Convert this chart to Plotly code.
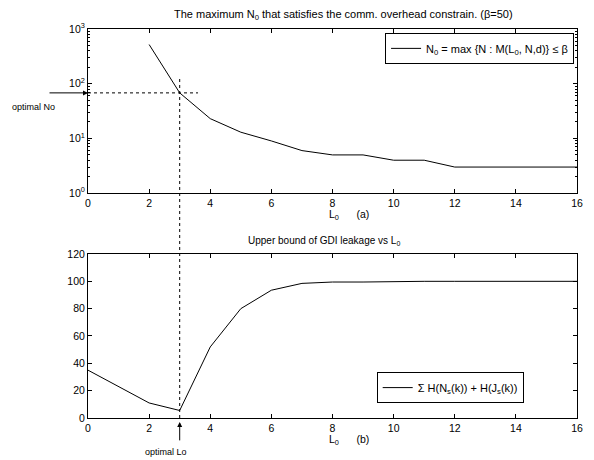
import plotly.graph_objects as go
from plotly.subplots import make_subplots
import math

# ---- data ----
L0_a = [2, 3, 4, 5, 6, 7, 8, 9, 10, 11, 12, 13, 14, 15, 16]
N0_max = [520, 68, 23, 13, 9, 6, 5, 5, 4, 4, 3, 3, 3, 3, 3]

L0_b = [0, 1, 2, 3, 4, 5, 6, 7, 8, 9, 10, 11, 12, 13, 14, 15, 16]
leakage = [35, 23, 11, 5.5, 52, 80, 93.5, 98.5, 99.5, 99.5, 100, 100, 100, 100, 100, 100, 100]

optimal_L0 = 3
optimal_N0 = N0_max[L0_a.index(optimal_L0)]

x_ticks = [0, 2, 4, 6, 8, 10, 12, 14, 16]
y_ticks_a = [1, 10, 100, 1000]
y_ticktext_a = ["10<sup>0</sup>", "10<sup>1</sup>", "10<sup>2</sup>", "10<sup>3</sup>"]
y_ticks_b = [0, 20, 40, 60, 80, 100, 120]

FONT = "Liberation Sans"

fig = make_subplots(rows=2, cols=1, vertical_spacing=0.1567)
# page body has an 8px margin, so the figure is 8px smaller and shifted
fig.update_layout(
    width=586, height=452,
    margin=dict(l=80, r=11, t=21, b=42),
    paper_bgcolor="white", plot_bgcolor="white",
    font=dict(family=FONT, size=10.5, color="black"),
)
fig.update_yaxes(domain=[0.578, 1.0], row=1, col=1)
fig.update_yaxes(domain=[0.0, 0.4216], row=2, col=1)

fig.add_trace(go.Scatter(
    x=L0_a, y=N0_max, mode="lines", line=dict(color="black", width=1),
    name="N<sub>0</sub> = max {N : M(L<sub>0</sub>, N,d)} ≤ β", legend="legend"),
    row=1, col=1)
# optimal guide (horizontal dotted)
fig.add_trace(go.Scatter(
    x=[0, optimal_L0 + 0.6], y=[optimal_N0, optimal_N0], mode="lines",
    line=dict(color="black", width=1, dash="dot"), showlegend=False,
    hoverinfo="skip"), row=1, col=1)

fig.add_trace(go.Scatter(
    x=L0_b, y=leakage, mode="lines", line=dict(color="black", width=1),
    name="Σ H(N<sub>s</sub>(k)) + H(J<sub>s</sub>(k))", legend="legend2"),
    row=2, col=1)

axis_common = dict(showline=True, linecolor="black", linewidth=1, mirror="ticks",
                   ticks="inside", ticklen=4, tickcolor="black", showgrid=False,
                   zeroline=False, tickfont=dict(family=FONT, size=10.5))
fig.update_xaxes(range=[0, 16], tickvals=x_ticks, **axis_common)
fig.update_yaxes(type="log", range=[0, 3], tickvals=y_ticks_a, ticktext=y_ticktext_a,
                 minor=dict(ticks="inside", ticklen=2, tickcolor="black",
                            dtick="D1", showgrid=False),
                 row=1, col=1, **axis_common)
fig.update_yaxes(range=[0, 120], tickvals=y_ticks_b, row=2, col=1, **axis_common)

fig.update_layout(
    legend=dict(x=0.994, y=0.99, xanchor="right", yanchor="top",
                bordercolor="black", borderwidth=1, bgcolor="white",
                font=dict(family=FONT, size=11), itemwidth=30,
                tracegroupgap=0),
    legend2=dict(x=0.891, y=0.118, xanchor="right", yanchor="top",
                 bordercolor="black", borderwidth=1, bgcolor="white",
                 font=dict(family=FONT, size=11), itemwidth=30),
)

# vertical dotted line across both panels at optimal L0
fig.add_shape(type="line", xref="x", yref="paper", x0=optimal_L0, x1=optimal_L0,
              y0=0.0, y1=0.874, line=dict(color="black", width=1, dash="dot"))

ann = []
ann.append(dict(text="The maximum N<sub>0</sub> that satisfies the comm. overhead constrain. (β=50)",
                xref="paper", yref="paper", x=0.523, y=1.036, xanchor="center",
                yanchor="middle", showarrow=False, font=dict(size=11)))
ann.append(dict(text="Upper bound of GDI leakage vs L<sub>0</sub>",
                xref="paper", yref="paper", x=0.483, y=0.455, xanchor="center",
                yanchor="middle", showarrow=False, font=dict(size=10)))
ann.append(dict(text="L<sub>0</sub>      (a)", xref="paper", yref="paper",
                x=0.533, y=0.522, xanchor="center", yanchor="middle",
                showarrow=False, font=dict(size=10.5)))
ann.append(dict(text="L<sub>0</sub>      (b)", xref="paper", yref="paper",
                x=0.533, y=-0.0566, xanchor="center", yanchor="middle",
                showarrow=False, font=dict(size=10.5)))
# arrows
ann.append(dict(text="", xref="paper", yref="y", x=0, y=math.log10(optimal_N0),
                showarrow=True, ax=-40, ay=0, arrowhead=2, arrowsize=1,
                arrowwidth=1, arrowcolor="black"))
ann.append(dict(text="optimal No", xref="paper", yref="y", x=-0.111,
                y=math.log10(optimal_N0) - 0.25, xanchor="center", yanchor="middle",
                showarrow=False, font=dict(size=9)))
ann.append(dict(text="", xref="x2", yref="paper", x=optimal_L0, y=-0.01,
                showarrow=True, ax=0, ay=20, arrowhead=2, arrowsize=1,
                arrowwidth=1, arrowcolor="black"))
ann.append(dict(text="optimal Lo", xref="x2", yref="paper", x=optimal_L0 - 0.45,
                y=-0.087, xanchor="center", yanchor="middle",
                showarrow=False, font=dict(size=9)))
fig.update_layout(annotations=ann)

fig.write_html("out.html")
